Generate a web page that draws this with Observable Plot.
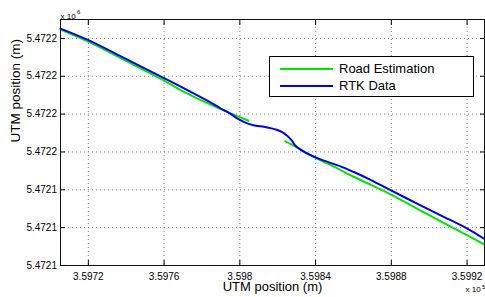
<!DOCTYPE html>
<html><head><meta charset="utf-8">
<script src="https://cdn.jsdelivr.net/npm/d3@7"></script>
<script src="https://cdn.jsdelivr.net/npm/@observablehq/plot@0.6"></script>
<style>
body{margin:0;background:#fff;font-family:"Liberation Sans",Arial,Helvetica,sans-serif;}
#wrap{position:relative;width:485px;height:297px;overflow:hidden;}
#legend{position:absolute;left:269px;top:56px;width:205px;height:41px;border:1px solid #000;background:#fff;box-sizing:border-box;font-size:13px;color:#000;}
.row{position:absolute;left:10px;height:16px;display:flex;align-items:center;white-space:nowrap;}
.sw{width:53px;height:2px;margin-right:6px;}
</style>
</head><body>
<div id="wrap"><div id="chart"></div>
<div id="legend"></div></div>
<script>
// Tick values and labels
const xTicks = [359720, 359760, 359800, 359840, 359880, 359920];
const xTickLabels = ["3.5972", "3.5976", "3.598", "3.5984", "3.5988", "3.5992"];
const yTicks = [5472100, 5472120, 5472140, 5472160, 5472180, 5472200, 5472220];
const yTickLabels = ["5.4721", "5.4721", "5.4721", "5.4722", "5.4722", "5.4722", "5.4722"];
const xDomain = [359705.3, 359929.2];
const yDomain = [5472100, 5472230];

// Series names
const seriesNames = ["Road Estimation", "RTK Data"];
const seriesColors = ["#00e600", "#0000f0"];

// RTK Data (easting, northing)
const rtkX = [359705.3, 359720.0, 359739.6, 359760.0, 359771.3, 359782.8, 359789.8, 359795.1, 359799.3, 359803.9, 359808.3, 359812.7, 359816.2, 359819.8, 359822.6, 359825.0, 359827.3, 359829.4, 359832.1, 359834.7, 359842.6, 359853.2, 359860.2, 359869.0, 359879.6, 359895.4, 359906.0, 359920.1, 359929.2];
const rtkY = [5472225.2, 5472219.1, 5472209.3, 5472199.0, 5472193.2, 5472187.1, 5472183.1, 5472180.1, 5472177.3, 5472175.1, 5472173.9, 5472173.3, 5472172.6, 5472171.6, 5472170.4, 5472168.6, 5472166.2, 5472163.3, 5472161.2, 5472159.7, 5472156.1, 5472152.4, 5472149.4, 5472145.3, 5472139.8, 5472131.8, 5472126.5, 5472119.5, 5472114.0];

// Road Estimation (two pieces)
const roadX = [359705.3, 359720.0, 359739.6, 359760.0, 359771.3, 359779.3, 359787.2, 359795.1, 359804.6,
               359824.1, 359829.4, 359834.7, 359842.6, 359847.9, 359860.1, 359879.6, 359900.7, 359920.1, 359929.2];
const roadY = [5472224.7, 5472218.3, 5472208.3, 5472197.7, 5472191.3, 5472187.4, 5472183.9, 5472180.4, 5472176.5,
               5472165.6, 5472162.8, 5472159.7, 5472155.6, 5472153.2, 5472146.9, 5472137.6, 5472126.2, 5472115.9, 5472111.0];
const roadPiece = [1,1,1,1,1,1,1,1,1, 2,2,2,2,2,2,2,2,2,2];

const rtk = rtkX.map((x, i) => ({x, y: rtkY[i]}));
const road = roadX.map((x, i) => ({x, y: roadY[i], piece: roadPiece[i]}));

const fx = d => xTickLabels[xTicks.indexOf(d)];
const fy = d => yTickLabels[yTicks.indexOf(d)];
const font = "Liberation Sans, Arial, Helvetica, sans-serif";

const chart = Plot.plot({
  width: 485, height: 297,
  marginLeft: 60, marginRight: 1, marginTop: 19, marginBottom: 32,
  style: {fontFamily: font, fontSize: "10px", color: "#000", background: "#fff"},
  x: {domain: xDomain, ticks: xTicks, label: null},
  y: {domain: yDomain, ticks: yTicks, label: null},
  marks: [
    Plot.gridX(xTicks, {stroke: "#808080", strokeOpacity: 1, strokeWidth: 1, strokeDasharray: "1,3"}),
    Plot.gridY(yTicks, {stroke: "#808080", strokeOpacity: 1, strokeWidth: 1, strokeDasharray: "1,3"}),
    Plot.line(road, {x: "x", y: "y", z: "piece", stroke: seriesColors[0], strokeWidth: 2, curve: "catmull-rom"}),
    Plot.line(rtk, {x: "x", y: "y", stroke: seriesColors[1], strokeWidth: 2, curve: "catmull-rom"}),
    Plot.frame({stroke: "#111", strokeWidth: 1}),
    Plot.axisX(xTicks, {anchor: "bottom", tickSize: -5, tickPadding: 12.5, tickFormat: fx, label: null, fontSize: 10, stroke: "#000"}),
    Plot.axisX(xTicks, {anchor: "top", tickSize: -5, tickPadding: 0, tickFormat: () => "", label: null}),
    Plot.axisY(yTicks, {anchor: "left", tickSize: -5, tickPadding: 8.5, tickFormat: fy, label: null, fontSize: 10}),
    Plot.axisY(yTicks, {anchor: "right", tickSize: -5, tickPadding: 0, tickFormat: () => "", label: null}),
    Plot.text(["UTM position (m)"], {frameAnchor: "bottom", dy: 25.5, fontSize: 13, fill: "#000"}),
    Plot.text(["UTM position (m)"], {frameAnchor: "left", rotate: -90, dx: -45.3, fontSize: 13.5, fill: "#000"}),
    Plot.text(["x 10"], {frameAnchor: "top-left", textAnchor: "start", dy: -6.6, fontSize: 8, fill: "#000"}),
    Plot.text(["6"], {frameAnchor: "top-left", textAnchor: "start", dx: 16.5, dy: -9.9, fontSize: 6, fill: "#000"}),
    Plot.text(["x 10"], {frameAnchor: "bottom-right", textAnchor: "start", dx: -19, dy: 26.8, fontSize: 8, fill: "#000"}),
    Plot.text(["5"], {frameAnchor: "bottom-right", textAnchor: "start", dx: -2.5, dy: 23, fontSize: 6, fill: "#000"})
  ]
});
document.getElementById("chart").appendChild(chart);

// Legend (HTML overlay)
const legend = d3.select("#legend");
seriesNames.forEach((name, i) => {
  const row = legend.append("div").attr("class", "row").style("top", (i === 0 ? 3.5 : 20.5) + "px");
  row.append("div").attr("class", "sw").style("background", seriesColors[i]);
  row.append("span").text(name);
});
</script>
</body></html>
